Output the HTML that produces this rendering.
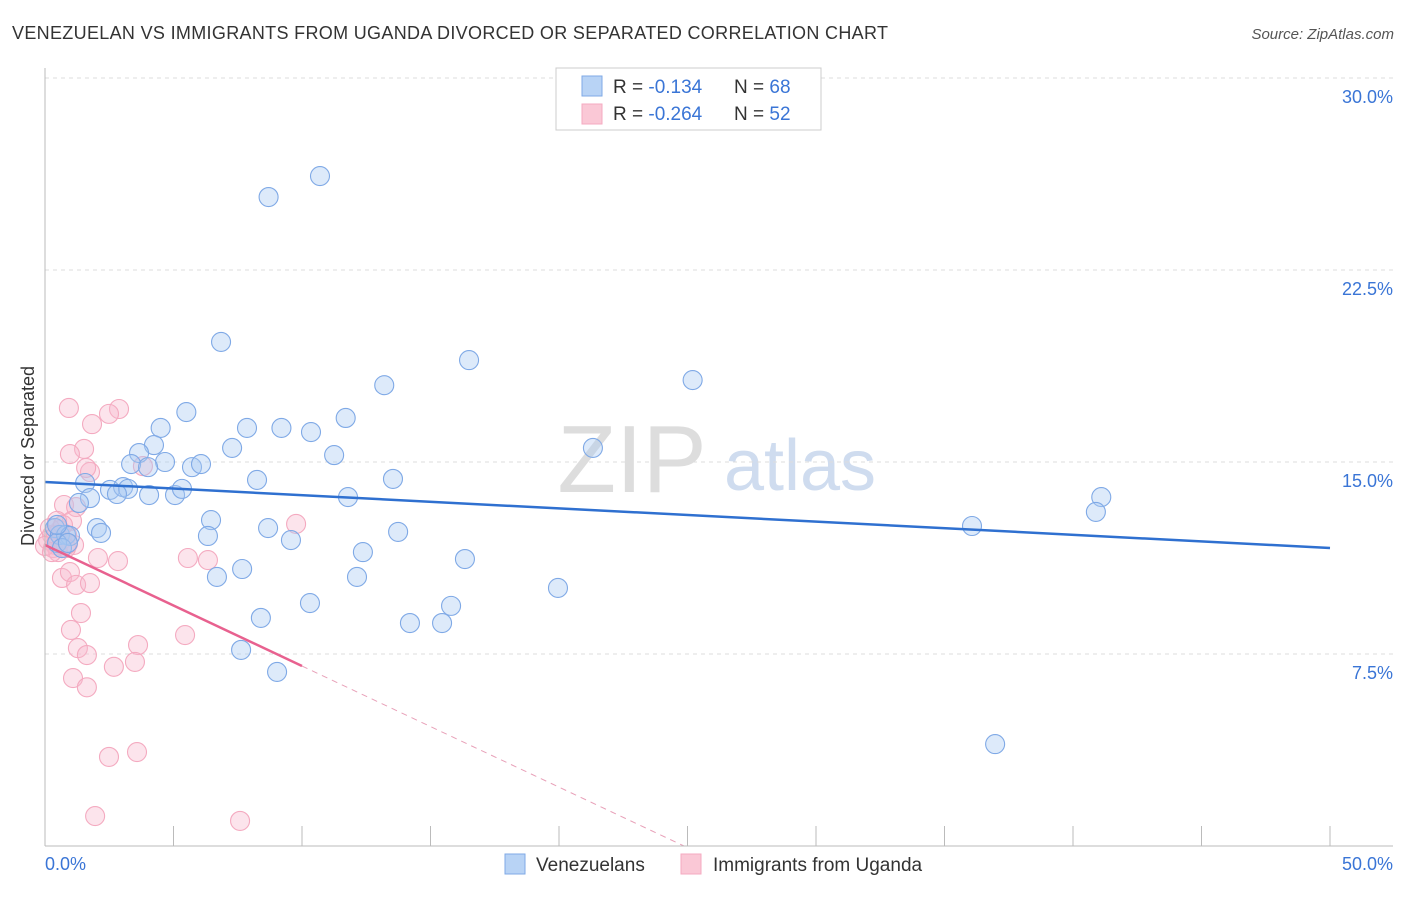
<!DOCTYPE html>
<html><head><meta charset="utf-8"><style>
body{margin:0;background:#fff;font-family:"Liberation Sans",sans-serif}
svg text{font-family:"Liberation Sans",sans-serif}
</style></head><body>
<svg id="chart" width="1406" height="892">
<text x="12" y="39" font-size="18" fill="#333" textLength="876">VENEZUELAN VS IMMIGRANTS FROM UGANDA DIVORCED OR SEPARATED CORRELATION CHART</text>
<text x="1394" y="39" font-size="15" fill="#555" font-style="italic" text-anchor="end">Source: ZipAtlas.com</text>
<text x="632" y="492" font-size="96" fill="#ddd" font-family="Liberation Serif" text-anchor="middle">ZIP</text>
<text x="800" y="490" font-size="72" fill="#cfdcef" text-anchor="middle">atlas</text>
<text transform="translate(34,456) rotate(-90)" font-size="18" fill="#333" text-anchor="middle">Divorced or Separated</text>
<g id="grid"></g><g id="ticks"></g><g id="pts"></g><g id="trend"></g>
<line x1="45" y1="68" x2="45" y2="846" stroke="#bbb"/>
<line x1="45" y1="846" x2="1393" y2="846" stroke="#bbb"/>
<text x="45" y="870" font-size="18" fill="#3a75d6">0.0%</text>
<text x="1393" y="870" font-size="18" fill="#3a75d6" text-anchor="end">50.0%</text>
<g>
<rect x="556" y="68" width="265" height="62" fill="#fff" stroke="#ccc"/>
<rect x="582" y="76" width="20" height="20" fill="#b8d3f5" stroke="#7fa9e6"/>
<rect x="582" y="104" width="20" height="20" fill="#fac8d6" stroke="#f4aac0"/>
<text x="613" y="93" font-size="19" fill="#333">R = <tspan fill="#3a75d6">-0.134</tspan><tspan x="734">N = </tspan><tspan fill="#3a75d6">68</tspan></text>
<text x="613" y="120" font-size="19" fill="#333">R = <tspan fill="#3a75d6">-0.264</tspan><tspan x="734">N = </tspan><tspan fill="#3a75d6">52</tspan></text>
</g>
<g>
<rect x="505" y="854" width="20" height="20" fill="#b8d3f5" stroke="#7fa9e6"/>
<text x="536" y="871" font-size="19" fill="#333">Venezuelans</text>
<rect x="681" y="854" width="20" height="20" fill="#fac8d6" stroke="#f4aac0"/>
<text x="713" y="871" font-size="19" fill="#333">Immigrants from Uganda</text>
</g>
</svg>
<script>
const yTicks=[7.5,15,22.5,30];
const yTickLabels=["7.5%","15.0%","22.5%","30.0%"];
const xTicks=[0,5,10,15,20,25,30,35,40,45,50];
const venX=[8.7,10.7,6.85,16.5,13.2,25.2,5.5,11.7,4.5,7.86,9.2,10.35,4.24,7.28,3.66,11.25,3.35,4.67,5.72,6.07,4.01,8.25,13.54,1.56,2.53,3.04,3.23,2.8,4.05,5.06,5.33,11.79,41.1,1.75,1.32,6.46,8.68,13.74,36.07,40.89,2.02,2.18,6.34,9.57,12.37,16.34,7.67,6.69,12.14,19.96,10.31,15.8,8.4,14.2,15.45,7.63,9.03,36.97,0.39,0.58,0.82,0.97,0.47,0.66,0.89,21.32,0.47];
const venY=[25.35,26.17,19.69,18.98,18.0,18.2,16.95,16.72,16.33,16.33,16.33,16.17,15.66,15.55,15.35,15.27,14.92,15.0,14.8,14.92,14.8,14.3,14.34,14.18,13.91,14.02,13.95,13.75,13.71,13.71,13.95,13.63,13.63,13.59,13.4,12.73,12.42,12.27,12.5,13.05,12.42,12.23,12.11,11.95,11.48,11.21,10.82,10.51,10.51,10.08,9.49,9.38,8.91,8.71,8.71,7.66,6.8,3.98,12.42,12.15,12.15,12.11,11.84,11.64,11.84,15.55,12.54];
const ugX=[0.93,2.88,2.49,1.83,1.52,0.97,1.75,1.6,3.81,0.74,1.21,1.05,9.77,0.47,0.58,0.27,0.12,0.39,0.66,0.86,1.13,5.56,6.34,2.06,2.84,0.66,0.97,1.21,1.75,1.4,1.01,3.62,1.28,1.63,3.5,2.68,1.09,1.63,5.45,2.49,3.58,1.95,7.59,0.31,0.51,0.19,0.82,0.43,0.7,0.0,0.27,0.89];
const ugY=[17.11,17.07,16.88,16.48,15.51,15.31,14.61,14.77,14.84,13.32,13.24,12.7,12.58,12.7,12.34,12.15,11.95,11.76,11.95,12.15,11.76,11.25,11.17,11.25,11.13,10.47,10.7,10.2,10.27,9.1,8.44,7.85,7.73,7.46,7.19,7.0,6.56,6.2,8.24,3.48,3.67,1.17,0.98,11.64,11.48,12.42,11.64,12.15,12.54,11.72,11.48,11.8];
const venTrend=[14.22,11.64];
const ugTrend=[11.76,-0.473];
const ugSolidEnd=10;
const NS="http://www.w3.org/2000/svg";
const sx=v=>45+v/50*1285, sy=v=>846-v*25.6;
function mk(t,a,p){const e=document.createElementNS(NS,t);for(const k in a)e.setAttribute(k,a[k]);document.getElementById(p).appendChild(e);return e;}
yTicks.forEach((t,i)=>{
 const l=mk('line',{x1:45,x2:1393,y1:sy(t),y2:sy(t),stroke:'#ddd','stroke-dasharray':'4,4'},'grid');
 
 
 const tx=mk('text',{x:1393,y:sy(t)+25,'font-size':18,fill:'#3a75d6','text-anchor':'end'},'ticks');
 tx.textContent=yTickLabels[i];
 
 
});
xTicks.forEach(t=>{
 const l=mk('line',{x1:sx(t),x2:sx(t),y1:826,y2:846,stroke:'#bbb'},'ticks');
 
 
});
ugX.forEach((x,i)=>{
 const c=mk('circle',{cx:sx(x),cy:sy(ugY[i]),r:9.5,fill:'rgba(248,185,205,0.38)',stroke:'#f4aac0','stroke-width':1.1},'pts');
 
 
});
venX.forEach((x,i)=>{
 const c=mk('circle',{cx:sx(x),cy:sy(venY[i]),r:9.5,fill:'rgba(170,202,242,0.4)',stroke:'#7fa9e6','stroke-width':1.1},'pts');
 
 
});
const vt=mk('line',{x1:sx(0),y1:sy(venTrend[0]),x2:sx(50),y2:sy(venTrend[1]),stroke:'#2f70d0','stroke-width':2.5},'trend');


const ug=x=>ugTrend[0]+ugTrend[1]*x;
const ut=mk('line',{x1:sx(0),y1:sy(ug(0)),x2:sx(ugSolidEnd),y2:sy(ug(ugSolidEnd)),stroke:'#e8618f','stroke-width':2.5},'trend');


const zx=-ugTrend[0]/ugTrend[1];
const ud=mk('line',{x1:sx(ugSolidEnd),y1:sy(ug(ugSolidEnd)),x2:sx(zx),y2:sy(0),stroke:'#e8a0b8','stroke-width':1,'stroke-dasharray':'6,5'},'trend');


</script>
</body></html>
